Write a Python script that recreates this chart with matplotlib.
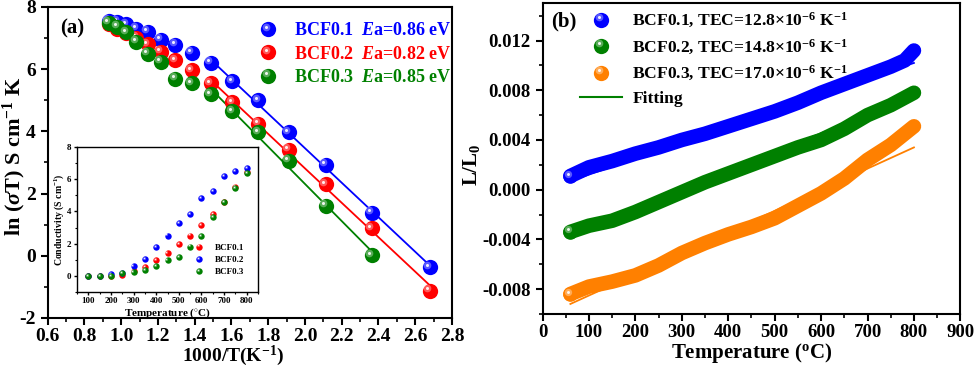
import numpy as np
import matplotlib
matplotlib.use("Agg")
import matplotlib.pyplot as plt
from matplotlib.lines import Line2D
from matplotlib.legend_handler import HandlerBase
from matplotlib.transforms import offset_copy
from matplotlib.ticker import MultipleLocator

plt.rcParams['font.family'] = ['Liberation Serif', 'DejaVu Serif']
plt.rcParams['font.weight'] = 'bold'
plt.rcParams['mathtext.fontset'] = 'custom'
plt.rcParams['mathtext.rm'] = 'Liberation Serif:bold'
plt.rcParams['mathtext.bf'] = 'Liberation Serif:bold'
plt.rcParams['mathtext.it'] = 'Liberation Serif:bold:italic'
plt.rcParams['axes.linewidth'] = 1.5
plt.rcParams['axes.unicode_minus'] = False

BLUE = '#0000FF'
RED = '#FF0000'
GREEN = '#008000'
ORANGE = '#FF8000'

# panel (a): Arrhenius data
inv_t = [0.932, 0.978, 1.028, 1.083, 1.145, 1.215, 1.294, 1.383, 1.486,
         1.605, 1.745, 1.912, 2.114, 2.364, 2.681]
ln_bcf01 = [7.55, 7.52, 7.44, 7.30, 7.20, 6.95, 6.79, 6.52, 6.20, 5.61,
            5.00, 3.97, 2.93, 1.39, -0.37]
ln_bcf02 = [7.45, 7.30, 7.15, 7.00, 6.80, 6.55, 6.28, 5.97, 5.55, 4.93,
            4.25, 3.40, 2.30, 0.88, -1.12]
ln_bcf03 = [7.49, 7.36, 7.18, 6.88, 6.50, 6.24, 5.70, 5.54, 5.19, 4.65,
            3.97, 3.05, 1.61, 0.01]
labels_a = ["BCF0.1  $E$a=0.86 eV", "BCF0.2  $E$a=0.82 eV", "BCF0.3  $E$a=0.85 eV"]

# inset: conductivity vs temperature
temp_in = [100, 150, 200, 250, 300, 350, 400, 450, 500, 550, 600, 650, 700, 750, 800]
cond_red = [0.0, 0.0, 0.0, 0.05, 0.30, 0.54, 1.00, 1.43, 1.95, 2.50, 3.13,
            3.83, 4.56, 5.55, 6.45]
cond_blue = [0.0, 0.0, 0.08, 0.20, 0.58, 1.06, 1.78, 2.50, 3.27, 3.83, 4.85,
             5.30, 6.20, 6.50, 6.70]
cond_green = [0.0, 0.0, 0.0, 0.15, 0.22, 0.37, 0.60, 0.95, 1.16, 1.82, 2.45,
              3.65, 4.56, 5.43, 6.40]

# panel (b): thermal expansion
temp_b = [60, 100, 150, 200, 250, 300, 350, 400, 450, 500, 550, 600, 650,
          700, 750, 780, 800]
dl_bcf01 = [0.0011, 0.0018, 0.0023, 0.0029, 0.0034, 0.0040, 0.0045, 0.0051,
            0.0057, 0.0063, 0.0070, 0.0078, 0.0085, 0.0092, 0.0099, 0.0104, 0.0112]
dl_bcf02 = [-0.0034, -0.0029, -0.0025, -0.0018, -0.0010, -0.0002, 0.0006,
            0.0013, 0.0020, 0.0027, 0.0034, 0.0040, 0.0049, 0.0060, 0.0068,
            0.0074, 0.0078]
dl_bcf03 = [-0.0084, -0.0078, -0.0074, -0.0069, -0.0061, -0.0051, -0.0043,
            -0.0036, -0.0030, -0.0023, -0.0013, -0.0003, 0.0009, 0.0024,
            0.0036, 0.0045, 0.0051]
fit_t = [60, 800]
fit_bcf01 = [0.0007, 0.0102]
fit_bcf02 = [-0.00345, 0.0075]
fit_bcf03 = [-0.0092, 0.0034]
labels_b = [r"BCF0.1, TEC=12.8$\times$10$^{{-}6}$ K$^{{-}1}$",
            r"BCF0.2, TEC=14.8$\times$10$^{{-}6}$ K$^{{-}1}$",
            r"BCF0.3, TEC=17.0$\times$10$^{{-}6}$ K$^{{-}1}$", "Fitting"]


def balls(ax, x, y, color, ms, z=3):
    fig = ax.figure
    tr = offset_copy(ax.transData, fig=fig, x=-ms * 0.17, y=ms * 0.17, units='points')
    for xi, yi in zip(x, y):
        ax.plot([xi], [yi], 'o', color=color, ms=ms, mew=0, zorder=z)
        ax.plot([xi], [yi], 'o', color='white', alpha=0.35, ms=ms * 0.5, mew=0,
                transform=tr, zorder=z + 0.01)
        ax.plot([xi], [yi], 'o', color='white', alpha=0.9, ms=ms * 0.2, mew=0,
                transform=tr, zorder=z + 0.02)
        z += 0.03
    return z


class BallHandler(HandlerBase):
    def create_artists(self, legend, orig, xd, yd, width, height, fontsize, trans):
        cx = width / 2 - xd
        cy = height / 2 - yd
        ms = orig.get_markersize()
        c = orig.get_color()
        a1 = Line2D([cx], [cy], marker='o', ms=ms, color=c, mew=0, ls='none', transform=trans)
        a2 = Line2D([cx - ms * 0.17], [cy + ms * 0.17], marker='o', ms=ms * 0.5,
                    color='white', alpha=0.35, mew=0, ls='none', transform=trans)
        a3 = Line2D([cx - ms * 0.17], [cy + ms * 0.17], marker='o', ms=ms * 0.2,
                    color='white', alpha=0.9, mew=0, ls='none', transform=trans)
        return [a1, a2, a3]


def style_ticks(ax, size):
    ax.tick_params(which='major', direction='out', length=5, width=1.5, labelsize=size)
    ax.tick_params(which='minor', direction='out', length=3, width=1.2)
    for lab in ax.get_xticklabels() + ax.get_yticklabels():
        lab.set_fontweight('bold')


fig = plt.figure(figsize=(9.74, 3.68), dpi=100)

# ---------- panel (a)
ax1 = fig.add_axes([0.049, 0.136, 0.415, 0.845])
ms_a = 11
z = 3
for yv, c in [(ln_bcf01, BLUE), (ln_bcf02, RED), (ln_bcf03, GREEN)]:
    xs = np.array(inv_t[:len(yv)])
    ys = np.array(yv)
    sel = xs >= 1.48
    k, b = np.polyfit(xs[sel], ys[sel], 1)
    ax1.plot(xs[sel], k * xs[sel] + b, color=c, lw=1.3, zorder=2)
    z = balls(ax1, xs, ys, c, ms_a, z)

ax1.set_xlim(0.6, 2.8)
ax1.set_ylim(-2, 8)
ax1.xaxis.set_major_locator(MultipleLocator(0.2))
ax1.xaxis.set_minor_locator(MultipleLocator(0.1))
ax1.yaxis.set_major_locator(MultipleLocator(2))
ax1.yaxis.set_minor_locator(MultipleLocator(1))
ax1.tick_params(top=False, right=False)
style_ticks(ax1, 14)
ax1.tick_params(axis='x', pad=2)
ax1.set_xlabel(r"1000/T(K$^{{-}1}$)", fontsize=14, fontweight='bold')
ax1.xaxis.set_label_coords(0.458, -0.084)
ax1.set_ylabel(r"ln ($\sigma$T) S cm$^{{-}1}$ K", fontsize=16, fontweight='bold')
ax1.yaxis.set_label_coords(-0.049, 0.52)
ax1.text(0.06, 0.93, "(a)", transform=ax1.transAxes, fontsize=15, fontweight='bold',
         ha='center', va='center')
hs = [Line2D([], [], color=c, marker='o', ms=ms_a, ls='none') for c in (BLUE, RED, GREEN)]
ax1.legend(hs, labels_a, loc='upper right', frameon=False, fontsize=13,
           handler_map={Line2D: BallHandler()}, labelcolor=[BLUE, RED, GREEN],
           handletextpad=0.4, labelspacing=0.35, borderaxespad=0.2,
           bbox_to_anchor=(1.025, 0.985))

# ---------- inset
ins = fig.add_axes([0.079, 0.207, 0.186, 0.393])
zi = 3
for yv, c in [(cond_red, RED), (cond_blue, BLUE), (cond_green, GREEN)]:
    zi = balls(ins, temp_in, yv, c, 4.6, zi)
ins.set_xlim(50, 850)
ins.set_ylim(-1, 8)
ins.xaxis.set_major_locator(MultipleLocator(100))
ins.xaxis.set_minor_locator(MultipleLocator(50))
ins.yaxis.set_major_locator(MultipleLocator(2))
ins.yaxis.set_minor_locator(MultipleLocator(1))
ins.tick_params(which='major', direction='out', length=2.5, width=1, labelsize=6.5, pad=1.5)
ins.tick_params(which='minor', direction='out', length=1.5, width=0.8)
for sp in ins.spines.values():
    sp.set_linewidth(1.0)
ins.set_xlabel(r"Temperature ($^{\circ}$C)", fontsize=8, fontweight='bold', labelpad=1)
ins.set_ylabel(r"Conductivity (S cm$^{{-}1}$)", fontsize=7, fontweight='bold', labelpad=1)
hi = [Line2D([], [], color=c, marker='o', ms=4.6, ls='none') for c in (RED, BLUE, GREEN)]
ins.legend(hi, ["BCF0.1", "BCF0.2", "BCF0.3"], loc='lower right', frameon=False,
           fontsize=6.5, handler_map={Line2D: BallHandler()}, handletextpad=0.8,
           labelspacing=0.45, bbox_to_anchor=(0.97, 0.05))

# ---------- panel (b)
ax2 = fig.add_axes([0.557, 0.147, 0.429, 0.844])
lw_b = 10.5
zb = 3
for yv, fv, c in [(dl_bcf01, fit_bcf01, BLUE), (dl_bcf02, fit_bcf02, GREEN),
                  (dl_bcf03, fit_bcf03, ORANGE)]:
    ax2.plot(temp_b, yv, color=c, lw=lw_b, solid_capstyle='round',
             solid_joinstyle='round', zorder=zb)
    ax2.plot(fit_t, fv, color=c, lw=1.3, zorder=zb - 0.5)
    balls(ax2, temp_b[:1], yv[:1], c, lw_b, zb + 0.1)
    zb += 1
ax2.set_xlim(0, 900)
ax2.set_ylim(-0.010, 0.015)
ax2.xaxis.set_major_locator(MultipleLocator(100))
ax2.xaxis.set_minor_locator(MultipleLocator(50))
ax2.set_yticks([-0.008, -0.004, 0.0, 0.004, 0.008, 0.012])
ax2.yaxis.set_minor_locator(MultipleLocator(0.002))
ax2.set_yticklabels(["-0.008", "-0.004", "0.000", "0.004", "0.008", "0.012"])
ax2.tick_params(top=False, right=False)
style_ticks(ax2, 13.5)
ax2.tick_params(axis='x', pad=2)
ax2.set_xlabel(r"Temperature ($^{\rm o}$C)", fontsize=15, fontweight='bold', labelpad=0)
ax2.set_ylabel(r"L/L$_{\rm 0}$", fontsize=15, fontweight='bold')
ax2.yaxis.set_label_coords(-0.144, 0.48)
ax2.text(0.05, 0.94, "(b)", transform=ax2.transAxes, fontsize=15, fontweight='bold',
         ha='center', va='center')
hb = [Line2D([], [], color=c, marker='o', ms=11, ls='none') for c in (BLUE, GREEN, ORANGE)]
hb.append(Line2D([], [], color=GREEN, lw=1.5))
ax2.legend(hb, labels_b, loc='upper left', frameon=False, fontsize=12.6,
           handler_map={hb[0]: BallHandler(), hb[1]: BallHandler(), hb[2]: BallHandler()},
           handlelength=2.4, handletextpad=0.57, labelspacing=0.42,
           borderaxespad=0.0, bbox_to_anchor=(0.074, 0.998))

fig.savefig("out.png", dpi=100)
